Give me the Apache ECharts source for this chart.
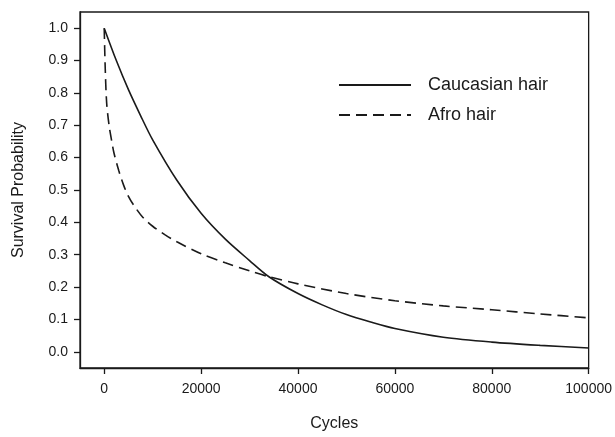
<!DOCTYPE html>
<html>
<head>
<meta charset="utf-8">
<script src="https://cdn.jsdelivr.net/npm/echarts@6/dist/echarts.min.js"></script>
<style>html,body{margin:0;padding:0;background:#fff;}#c{width:615px;height:437px;}</style>
</head>
<body>
<div id="c"></div>
<script>
const seriesNames = ['Caucasian hair', 'Afro hair'];
const caucasianCycles = [0, 2500, 5000, 7500, 10000, 15000, 20000, 25000, 30000, 34000, 40000, 45000, 50000, 55000, 60000, 70000, 80000, 90000, 100000];
const caucasianSurvival = [1.0, 0.90, 0.81, 0.73, 0.655, 0.53, 0.428, 0.348, 0.282, 0.232, 0.18, 0.145, 0.115, 0.092, 0.072, 0.045, 0.03, 0.02, 0.012];
const afroCycles = [0, 200, 500, 1000, 1500, 2000, 3000, 4000, 5000, 6000, 8000, 10000, 12500, 15000, 20000, 25000, 30000, 34000, 40000, 50000, 60000, 70000, 80000, 90000, 100000];
const afroSurvival = [1.0, 0.88, 0.77, 0.70, 0.655, 0.615, 0.56, 0.515, 0.48, 0.455, 0.415, 0.388, 0.362, 0.34, 0.303, 0.275, 0.25, 0.232, 0.21, 0.18, 0.158, 0.142, 0.13, 0.117, 0.105];
const xTicks = [0, 20000, 40000, 60000, 80000, 100000];
const yTicks = [0.0, 0.1, 0.2, 0.3, 0.4, 0.5, 0.6, 0.7, 0.8, 0.9, 1.0];

const pair = (xs, ys) => xs.map((x, i) => [x, ys[i]]);
const font = 'Liberation Sans, Arial, sans-serif';
const ink = '#1a1a1a';

const chart = echarts.init(document.getElementById('c'), null, {renderer: 'canvas'});
chart.setOption({
  animation: false,
  backgroundColor: '#fff',
  grid: {left: 80, right: 25, top: 12, bottom: 65, show: true, borderColor: ink, borderWidth: 1.3, backgroundColor: 'transparent'},
  legend: {
    data: seriesNames,
    orient: 'vertical',
    left: 333, top: 71,
    itemWidth: 72, itemHeight: 14, itemGap: 12,
    itemStyle: {opacity: 0},
    textStyle: {fontFamily: font, fontSize: 18, color: ink, padding: [0, 0, 0, 12]}
  },
  xAxis: {
    type: 'value', min: -5000, max: 100000,
    name: 'Cycles', nameLocation: 'middle', nameGap: 48,
    nameTextStyle: {fontFamily: font, fontSize: 16, color: ink},
    axisLine: {show: true, onZero: false, lineStyle: {color: ink, width: 1.3}},
    axisTick: {show: true, inside: false, length: 6, customValues: xTicks, lineStyle: {color: ink, width: 1.3}},
    axisLabel: {customValues: xTicks, fontFamily: font, fontSize: 14, color: ink, margin: 14, formatter: v => String(v)},
    splitLine: {show: false}
  },
  yAxis: {
    type: 'value', min: -0.05, max: 1.05,
    name: 'Survival Probability', nameLocation: 'middle', nameGap: 53, nameRotate: 90,
    nameTextStyle: {fontFamily: font, fontSize: 16, color: ink},
    axisLine: {show: true, onZero: false, lineStyle: {color: ink, width: 1.3}},
    axisTick: {show: true, inside: false, length: 6, customValues: yTicks, lineStyle: {color: ink, width: 1.3}},
    axisLabel: {customValues: yTicks, fontFamily: font, fontSize: 14, color: ink, margin: 12, formatter: v => v.toFixed(1)},
    splitLine: {show: false}
  },
  series: [
    {name: seriesNames[0], type: 'line', data: pair(caucasianCycles, caucasianSurvival), symbol: 'none', smooth: 0.3,
     lineStyle: {color: ink, width: 1.6, type: 'solid'}, itemStyle: {color: ink}},
    {name: seriesNames[1], type: 'line', data: pair(afroCycles, afroSurvival), symbol: 'none', smooth: 0.3,
     lineStyle: {color: ink, width: 1.6, type: [11, 6]}, itemStyle: {color: ink}}
  ]
});
</script>
</body>
</html>
